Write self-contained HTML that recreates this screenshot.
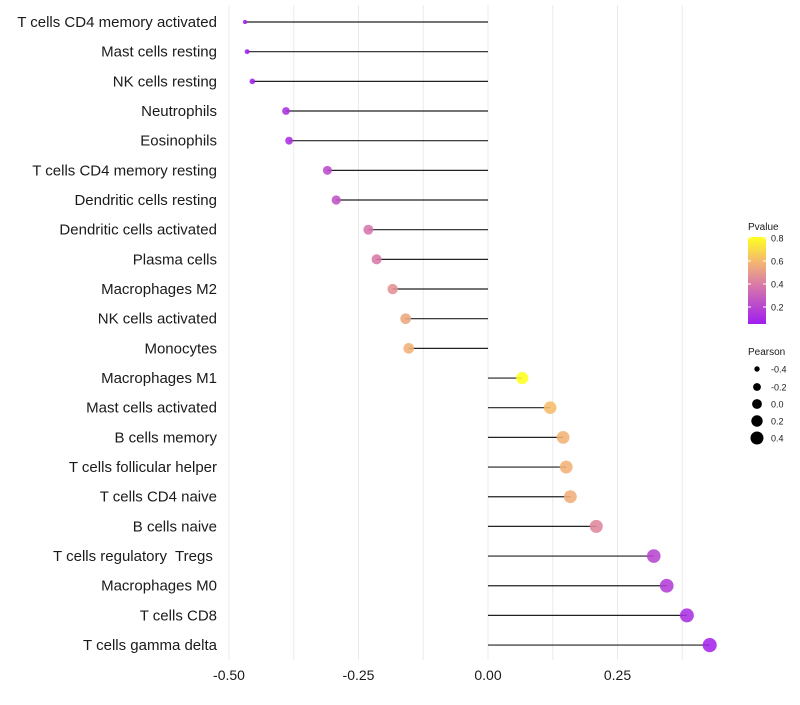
<!DOCTYPE html>
<html><head><meta charset="utf-8"><style>
body{margin:0;background:#fff;font-family:"Liberation Sans",sans-serif;}
#labels text{white-space:pre;}
</style></head><body>
<svg id="chart" width="800" height="700" xmlns="http://www.w3.org/2000/svg" font-family="Liberation Sans, sans-serif">
<defs><linearGradient id="pg" x1="0" y1="1" x2="0" y2="0">
<stop offset="0" stop-color="#a01ef0"/><stop offset="0.45" stop-color="#d87aa8"/><stop offset="0.72" stop-color="#f5b870"/><stop offset="1" stop-color="#ffff20"/></linearGradient></defs>
<g id="grid"></g><g id="marks"></g><g id="labels"></g><g id="xticks"></g>
<g id="legend"></g>
</svg>
<script>
const cells=["T cells CD4 memory activated","Mast cells resting","NK cells resting","Neutrophils","Eosinophils","T cells CD4 memory resting","Dendritic cells resting","Dendritic cells activated","Plasma cells","Macrophages M2","NK cells activated","Monocytes","Macrophages M1","Mast cells activated","B cells memory","T cells follicular helper","T cells CD4 naive","B cells naive","T cells regulatory  Tregs ","Macrophages M0","T cells CD8","T cells gamma delta"];
const pearson=[-0.469,-0.465,-0.455,-0.390,-0.384,-0.310,-0.293,-0.231,-0.215,-0.184,-0.159,-0.153,0.066,0.120,0.145,0.151,0.159,0.209,0.320,0.345,0.384,0.428];
const pvalue=[0.05,0.05,0.06,0.12,0.12,0.22,0.25,0.38,0.40,0.48,0.56,0.59,0.81,0.63,0.60,0.60,0.58,0.45,0.20,0.17,0.12,0.08];
const tickVals=[-0.5,-0.25,0,0.25];
const tickLabels=["-0.50","-0.25","0.00","0.25"];
const NS="http://www.w3.org/2000/svg";
const X=v=>488+v*518;
const Y=i=>22+i*29.67;
const R=v=>{const t=Math.max(0,(v+0.47)/0.9);return Math.sqrt(4+46*Math.pow(t,0.6));};
function mix(a,b,t){return a.map((c,k)=>Math.round(c+(b[k]-c)*t));}
const stops=[[0.05,[160,30,240]],[0.4,[216,122,168]],[0.62,[245,184,112]],[0.81,[255,255,32]]];
function col(p){for(let k=1;k<stops.length;k++){if(p<=stops[k][0]||k==stops.length-1){const t=Math.min(1,Math.max(0,(p-stops[k-1][0])/(stops[k][0]-stops[k-1][0])));const c=mix(stops[k-1][1],stops[k][1],t);return `rgb(${c})`;}}}
function mk(tag,at,parent){const e=document.createElementNS(NS,tag);for(const k in at)e.setAttribute(k,at[k]);parent.appendChild(e);return e;}
const grid=document.getElementById('grid');
for(let v=-0.5;v<=0.43;v+=0.125){const g=mk('line',{x1:X(v),x2:X(v),y1:5,y2:660,stroke:'#ebebeb','stroke-width':1},grid);

}
const marks=document.getElementById('marks'),labels=document.getElementById('labels');
cells.forEach((c,i)=>{
const l=mk('line',{x1:X(0),x2:X(pearson[i]),y1:Y(i),y2:Y(i),stroke:'#222','stroke-width':1.2},marks);


const d=mk('circle',{cx:X(pearson[i]),cy:Y(i),r:R(pearson[i]),fill:col(pvalue[i]),'fill-opacity':0.88},marks);


const t=mk('text',{x:217,y:Y(i)+5,'text-anchor':'end','font-size':15,fill:'#1a1a1a'},labels);
t.textContent=c;


});
const xt=document.getElementById('xticks');
tickVals.forEach((v,i)=>{const t=mk('text',{x:X(v),y:680,'text-anchor':'middle','font-size':14,fill:'#1a1a1a'},xt);
t.textContent=tickLabels[i];

});
const lg=document.getElementById('legend');
let e=mk('text',{x:748,y:230,'font-size':10,fill:'#1a1a1a'},lg);e.textContent='Pvalue';


e=mk('rect',{x:748,y:237,width:18,height:87,fill:'url(#pg)'},lg);


[["0.8",238],["0.6",261],["0.4",284],["0.2",307]].forEach(([s,y])=>{
mk('line',{x1:748,x2:751,y1:y,y2:y,stroke:'#fff'},lg);mk('line',{x1:763,x2:766,y1:y,y2:y,stroke:'#fff'},lg);
const t=mk('text',{x:771,y:y+3.5,'font-size':9,fill:'#1a1a1a'},lg);t.textContent=s;

});
e=mk('text',{x:748,y:355,'font-size':10,fill:'#1a1a1a'},lg);e.textContent='Pearson';


[[2.7,"-0.4",369],[3.9,"-0.2",387],[4.9,"0.0",404],[5.7,"0.2",421],[6.5,"0.4",438]].forEach(([r,s,y])=>{
const c=mk('circle',{cx:757,cy:y,r:r},lg);


const t=mk('text',{x:771,y:y+3.5,'font-size':9,fill:'#1a1a1a'},lg);t.textContent=s;

});
</script>
</body></html>
